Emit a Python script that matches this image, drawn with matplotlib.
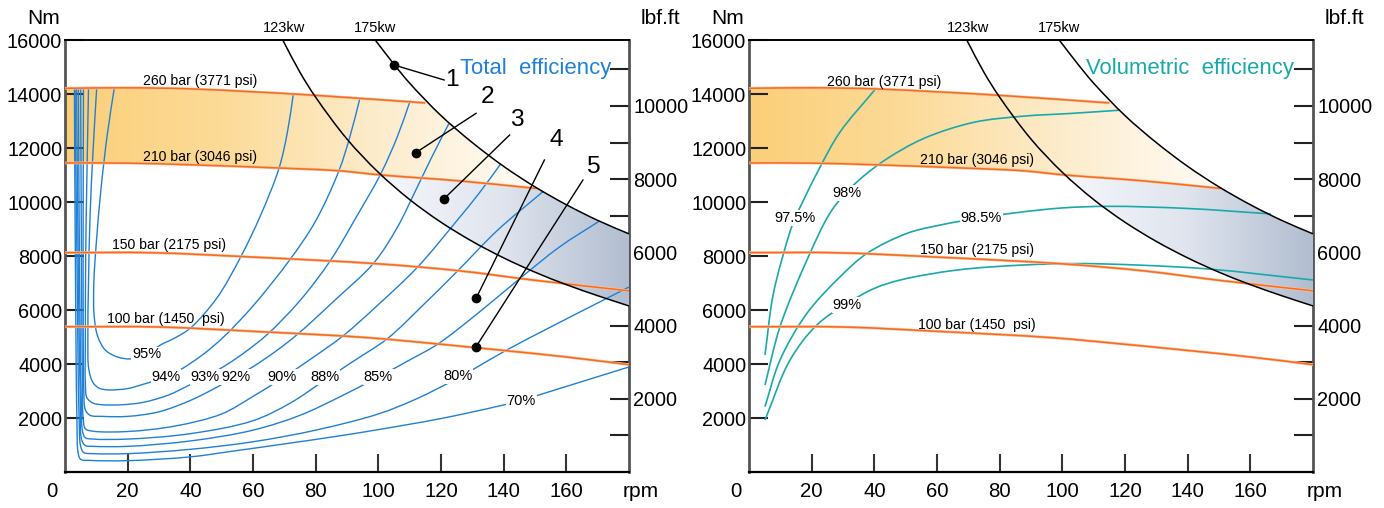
import numpy as np
import matplotlib
matplotlib.use('Agg')
import matplotlib.pyplot as plt
from matplotlib.colors import LinearSegmentedColormap
from matplotlib.path import Path
from matplotlib.patches import PathPatch
from matplotlib import font_manager

names = {f.name for f in font_manager.fontManager.ttflist}
if 'Liberation Sans Narrow' in names:
    FONT, K = 'Liberation Sans Narrow', 1.0
elif 'Liberation Sans' in names:
    FONT, K = 'Liberation Sans', 0.84
else:
    FONT, K = 'DejaVu Sans', 0.72
plt.rcParams['font.family'] = [FONT, 'DejaVu Sans']

# ---- data (rpm, Nm) ----
X_TICKS = [20, 40, 60, 80, 100, 120, 140, 160]
NM_TICKS = [2000, 4000, 6000, 8000, 10000, 12000, 14000, 16000]
LBF_MAJOR = [2000, 4000, 6000, 8000, 10000]
LBF_MINOR = [1000, 3000, 5000, 7000, 9000, 11000]

# pressure lines
p260_x = [0, 20, 40, 60, 73, 94, 115]
p260_y = [14210, 14230, 14190, 14080, 14000, 13840, 13670]
p210_x = [0, 20, 40, 68, 87, 101, 126, 150.5]
p210_y = [11445, 11440, 11380, 11260, 11160, 11000, 10780, 10500]
p150_x = [0, 28, 60, 100, 126, 150, 180]
p150_y = [8125, 8120, 7960, 7710, 7450, 7100, 6710]
p100_x = [0, 30, 60, 96, 120, 160, 180]
p100_y = [5380, 5370, 5210, 4980, 4730, 4260, 3975]

# power curves
k123_x = [69.5, 75, 80, 90, 100, 110, 120, 130, 140, 150, 160, 170, 180]
k123_y = [16000, 14800, 13880, 12330, 11100, 10090, 9250, 8540, 7930, 7400, 6940, 6530, 6150]
k175_x = [99, 105, 110, 120, 130, 140, 150, 160, 170, 180]
k175_y = [16000, 15100, 14400, 13200, 12200, 11320, 10560, 9900, 9320, 8820]

# total efficiency curves
e95_x = [15.7, 13.5, 11.5, 10.0, 9.2, 9.3, 10.5, 13.0, 17.0, 21.0, 26.0, 30.4, 35.0, 40.0, 48.5, 56.0, 62.4, 68.3, 71.0, 72.9]
e95_y = [14200, 12500, 10500, 8500, 7000, 5800, 5000, 4500, 4250, 4190, 4350, 4700, 4960, 5330, 6450, 7950, 9500, 11250, 12600, 14030]
e94_x = [10.1, 9.0, 8.0, 7.5, 7.3, 7.6, 9.0, 11, 14, 20, 25, 32.3, 37, 44, 50.6, 60, 72, 80, 87.4, 91, 94.2]
e94_y = [14200, 12000, 9500, 7000, 5000, 3800, 3300, 3100, 3040, 3090, 3250, 3519, 3800, 4350, 5000, 6150, 7900, 9300, 11150, 12450, 13880]
e93_x = [7.5, 7.0, 6.6, 6.5, 6.5, 7.0, 9.0, 12, 18, 25, 33, 39, 44.8, 51, 57, 64.6, 75, 84.8, 93, 100.8, 106, 110.2]
e93_y = [14200, 11000, 8000, 5000, 3300, 2750, 2550, 2490, 2490, 2580, 2850, 3180, 3519, 3930, 4400, 5100, 6350, 7850, 9450, 11050, 12400, 13760]
e92_x = [5.9, 5.8, 5.8, 6.0, 6.5, 8.0, 12, 20, 30, 40, 47, 54.4, 60, 67, 74.2, 86, 98.6, 106, 112, 117, 122.5]
e92_y = [14200, 10000, 6000, 3000, 2300, 2100, 2060, 2060, 2230, 2650, 3050, 3519, 3900, 4450, 5100, 6350, 7750, 9050, 10450, 11650, 12900]
e90_x = [5.0, 5.2, 5.5, 5.8, 6.5, 9, 20, 35, 50, 60, 69.4, 79, 88.6, 100, 112.6, 125, 132, 139]
e90_y = [14200, 9000, 4000, 2000, 1600, 1510, 1500, 1700, 2150, 2800, 3480, 4230, 5030, 6200, 7600, 9300, 10300, 11400]
e88_x = [4.3, 4.6, 5.2, 5.6, 6.5, 9, 20, 40, 60, 72, 82.9, 92, 103, 114, 125.4, 138, 152.6]
e88_y = [14200, 8000, 2500, 1500, 1270, 1220, 1220, 1420, 1900, 2560, 3400, 4100, 4950, 6150, 7460, 8950, 10390]
e85_x = [3.7, 4.2, 4.9, 5.3, 6.5, 9, 20, 40, 60, 75, 88, 100, 110, 119, 132, 145, 158, 170.5]
e85_y = [14200, 8000, 2500, 1200, 980, 950, 950, 1150, 1550, 2100, 2800, 3519, 4150, 4740, 5900, 7150, 8350, 9290]
e80_x = [3.2, 3.8, 4.5, 5.0, 6.0, 9, 20, 40, 60, 80, 100, 112, 125.4, 131, 141, 155, 170, 180]
e80_y = [14200, 8000, 2000, 950, 720, 680, 680, 840, 1120, 1550, 2150, 2700, 3480, 3850, 4520, 5370, 6260, 6850]
e70_x = [3.0, 3.3, 3.8, 4.2, 5.0, 8, 20, 40, 54, 70, 86, 100, 120, 138, 145.6, 152, 165, 180]
e70_y = [14200, 8000, 2000, 700, 470, 430, 420, 560, 780, 1040, 1310, 1570, 1980, 2430, 2650, 2880, 3350, 3890]

tot_labels = ['95%', '94%', '93%', '92%', '90%', '88%', '85%', '80%', '70%']
tot_label_x = [26.0, 32.3, 44.8, 54.4, 69.4, 82.9, 100.0, 125.4, 145.6]
tot_label_y = [4352, 3519, 3519, 3519, 3519, 3519, 3519, 3556, 2630]

# volumetric efficiency curves
v975_x = [5.1, 7.8, 13.1, 14.7, 16.9, 22.7, 29.1, 40.3]
v975_y = [4333, 6618, 8901, 9408, 9950, 11300, 12600, 14174]
v98_x = [5.1, 9.9, 18.5, 25.9, 31.4, 37, 44, 55.7, 71.7, 87.7, 102.7, 118.2]
v98_y = [3222, 5382, 7852, 9600, 10400, 11000, 11600, 12350, 12950, 13180, 13280, 13400]
v985_x = [5.1, 9.9, 18.5, 29.1, 37.7, 50.5, 61.1, 74.2, 85, 100, 115, 140, 166.5]
v985_y = [2420, 4148, 5877, 7234, 8100, 8841, 9149, 9420, 9600, 9780, 9840, 9760, 9560]
v99_x = [5.1, 13.1, 21.7, 31.4, 40, 48.3, 66.5, 87.7, 105, 125, 146.5, 180]
v99_y = [1926, 4148, 5450, 6250, 6800, 7112, 7482, 7667, 7720, 7660, 7520, 7112]

vol_labels = ['97.5%', '98%', '98.5%', '99%']
vol_label_x = [14.7, 31.4, 74.2, 31.4]
vol_label_y = [9408, 10334, 9408, 6186]

BLUE = '#1f80d6'
TEAL = '#1aa9a9'
ORANGE = '#f76b1c'
SX, SY = 3.125, 1 / 37.04   # rough px per unit, only used to shape the smooth curves


def smooth(ax, x, y, **kw):
    # centripetal Catmull-Rom through the read points, drawn as Bezier path
    p = np.column_stack([np.asarray(x, float) * SX, np.asarray(y, float) * SY])
    p = np.vstack([2 * p[0] - p[1], p, 2 * p[-1] - p[-2]])
    verts, codes = [p[1]], [Path.MOVETO]
    for i in range(1, len(p) - 2):
        p0, p1, p2, p3 = p[i - 1], p[i], p[i + 1], p[i + 2]
        d1 = max(np.hypot(*(p1 - p0)) ** 0.5, 1e-6)
        d2 = max(np.hypot(*(p2 - p1)) ** 0.5, 1e-6)
        d3 = max(np.hypot(*(p3 - p2)) ** 0.5, 1e-6)
        b1 = (d1 ** 2 * p2 - d2 ** 2 * p0 + (2 * d1 ** 2 + 3 * d1 * d2 + d2 ** 2) * p1) / (3 * d1 * (d1 + d2))
        b2 = (d3 ** 2 * p1 - d2 ** 2 * p3 + (2 * d3 ** 2 + 3 * d3 * d2 + d2 ** 2) * p2) / (3 * d3 * (d3 + d2))
        verts += [b1, b2, p2]
        codes += [Path.CURVE4] * 3
    v = np.array(verts)
    v[:, 0] /= SX
    v[:, 1] /= SY
    ax.add_patch(PathPatch(Path(v, codes), fc='none', capstyle='butt', **kw))


def shade(ax, x, lo, hi, colors, x0, x1):
    poly = ax.fill_between(x, lo, hi, where=hi > lo, interpolate=True,
                           facecolor='none', edgecolor='none')
    cmap = LinearSegmentedColormap.from_list('g', colors)
    im = ax.imshow(np.linspace(0, 1, 256)[None, :], extent=(x0, x1, 0, 16000),
                   origin='lower', aspect='auto', cmap=cmap, zorder=0.5,
                   interpolation='bilinear')
    im.set_clip_path(Path.make_compound_path(*poly.get_paths()), ax.transData)


def base(ax, pos_labels):
    xx = np.linspace(0, 180, 721)
    top = np.minimum(np.interp(xx, p260_x, p260_y), np.interp(xx, k175_x, k175_y))
    shade(ax, xx, np.interp(xx, p210_x, p210_y), top,
          ['#fbcf79', '#fcdb98', '#fdeccc', '#fffcf6'], 0, 150)
    top2 = np.minimum(np.interp(xx, p210_x, p210_y), np.interp(xx, k175_x, k175_y))
    shade(ax, xx, np.interp(xx, k123_x, k123_y), top2,
          ['#f6f7fb', '#dfe4ee', '#b1bdd0'], 100, 180)
    ax.set_xlim(0, 180)
    ax.set_ylim(0, 16000)

    for px, py in [(p260_x, p260_y), (p210_x, p210_y), (p150_x, p150_y), (p100_x, p100_y)]:
        smooth(ax, px, py, ec='#fbc29c', lw=2.0, zorder=3)
        smooth(ax, px, py, ec=ORANGE, lw=1.1, zorder=3.1)
    smooth(ax, k123_x, k123_y, ec='black', lw=1.1, zorder=3.2)
    smooth(ax, k175_x, k175_y, ec='black', lw=1.1, zorder=3.2)
    for lx, t in zip([70, 98.8], ['123kw', '175kw']):
        ax.text(lx, 16450, t, ha='center', va='center', fontsize=12.5 * K, clip_on=False)

    for (lx, ly), t in zip(pos_labels, ['260 bar (3771 psi)', '210 bar (3046 psi)',
                                        '150 bar (2175 psi)', '100 bar (1450  psi)']):
        ax.text(lx, ly, t, ha='left', va='center', fontsize=12 * K, zorder=5)

    ax.set_xticks(X_TICKS)
    ax.set_yticks(NM_TICKS)
    ax.tick_params(axis='x', direction='in', length=13, width=1.5, pad=7, labelsize=17.5 * K,
                   color='#333')
    ax.tick_params(axis='y', direction='in', length=14, width=1.5, pad=2, labelsize=17 * K,
                   color='#222')
    ax.spines['left'].set_color('#555')
    ax.spines['left'].set_linewidth(2)
    ax.spines['right'].set_visible(False)
    ax.spines['top'].set_linewidth(1.4)
    ax.spines['bottom'].set_linewidth(1.6)

    sec = ax.secondary_yaxis('right', functions=(lambda v: v / 1.35582, lambda v: v * 1.35582))
    sec.set_yticks(LBF_MAJOR)
    sec.set_yticks(LBF_MINOR, minor=True)
    sec.tick_params(which='both', direction='in', length=14, width=1.5, pad=3,
                    labelsize=17 * K, color='#222')
    sec.spines['right'].set_color('#555')
    sec.spines['right'].set_linewidth(2)

    ax.text(-4.2, -740, '0', ha='center', va='center', fontsize=17.5 * K, clip_on=False)
    ax.text(178, -740, 'rpm', ha='left', va='center', fontsize=18 * K, clip_on=False)
    ax.text(-6.7, 16800, 'Nm', ha='center', va='center', fontsize=18 * K, clip_on=False)
    ax.text(190, 16800, 'lbf.ft', ha='center', va='center', fontsize=18 * K, clip_on=False)


fig = plt.figure(figsize=(13.84, 5.08), dpi=100)
ax1 = fig.add_axes([65 / 1384, 36 / 508, 564 / 1384, 432 / 508])
ax2 = fig.add_axes([749 / 1384, 36 / 508, 564 / 1384, 432 / 508])

# left: total efficiency
base(ax1, [(25, 14500), (25, 11680), (15, 8410), (13.4, 5670)])
for ex, ey in [(e95_x, e95_y), (e94_x, e94_y), (e93_x, e93_y), (e92_x, e92_y), (e90_x, e90_y),
               (e88_x, e88_y), (e85_x, e85_y), (e80_x, e80_y), (e70_x, e70_y)]:
    smooth(ax1, ex, ey, ec=BLUE, lw=1.0, zorder=2)
for t, lx, ly in zip(tot_labels, tot_label_x, tot_label_y):
    ax1.text(lx, ly, t, ha='center', va='center', fontsize=12.5 * K, zorder=4,
             bbox=dict(boxstyle='square,pad=0.05', fc='white', ec='none'))
ax1.text(174.5, 14960, 'Total  efficiency', color=BLUE, ha='right', va='center',
         fontsize=19 * K, zorder=5)

# numbered callouts: dot, line end, number position
callouts = [((105, 15074), (121, 14519), (123.5, 14500), '1'),
            ((112, 11830), (131.2, 13285), (135, 13900), '2'),
            ((120.9, 10112), (141.9, 12482), (144.3, 13040), '3'),
            ((131.2, 6434), (153, 11556), (156.8, 12300), '4'),
            ((131.2, 4642), (165.3, 10815), (168.5, 11310), '5')]
for dot, end, num, t in callouts:
    ax1.plot([dot[0], end[0]], [dot[1], end[1]], color='black', lw=1.0, zorder=6)
    ax1.plot(*dot, 'o', color='black', ms=6, zorder=6)
    ax1.text(*num, t, ha='center', va='center', fontsize=21 * K, zorder=6)

# right: volumetric efficiency
base(ax2, [(24.9, 14460), (54.7, 11560), (54.7, 8240), (53.8, 5460)])
for vx, vy in [(v975_x, v975_y), (v98_x, v98_y), (v985_x, v985_y), (v99_x, v99_y)]:
    smooth(ax2, vx, vy, ec=TEAL, lw=1.2, zorder=2)
for t, lx, ly in zip(vol_labels, vol_label_x, vol_label_y):
    ax2.text(lx, ly, t, ha='center', va='center', fontsize=12.5 * K, zorder=4,
             bbox=dict(boxstyle='square,pad=0.05', fc='white', ec='none'))
ax2.text(174, 14960, 'Volumetric  efficiency', color=TEAL, ha='right', va='center',
         fontsize=19 * K, zorder=5)

fig.savefig('out.png', dpi=100)
